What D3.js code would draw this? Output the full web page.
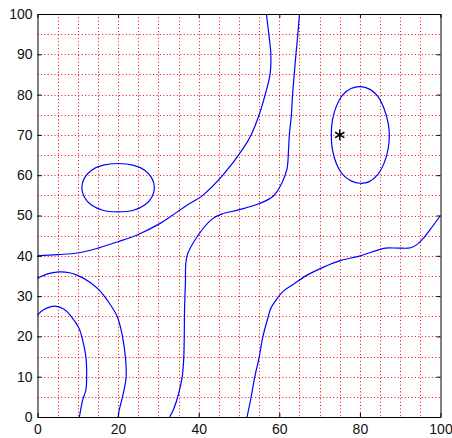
<!DOCTYPE html>
<html>
<head>
<meta charset="utf-8">
<script src="https://cdn.jsdelivr.net/npm/d3@7"></script>
<style>
  html, body { margin: 0; padding: 0; background: #fff; }
  svg { display: block; }
  .tick text { font-family: "Liberation Sans", Arial, sans-serif; font-size: 14px; fill: #111; }
</style>
</head>
<body>
<svg id="chart" width="452" height="438"></svg>
<script>
// Axis ticks and grid spacing
const xTicks = [0, 20, 40, 60, 80, 100];
const yTicks = [0, 10, 20, 30, 40, 50, 60, 70, 80, 90, 100];
const gridValues = [5, 10, 15, 20, 25, 30, 35, 40, 45, 50, 55, 60, 65, 70, 75, 80, 85, 90, 95];

// Contour lines, as [x, y] pairs
const contourUpperLeft = [
  [0, 40], [5, 40.3], [10, 40.7], [15, 41.9], [20, 43.5], [25, 45.3], [30, 47.8],
  [33.4, 50], [37, 52.5], [41, 55], [46, 60], [51, 66.6], [53, 70], [55, 75],
  [56.5, 80], [57.7, 85], [57.9, 90], [57.4, 95], [56.8, 100]
];
const contourMiddle = [
  [65, 100], [64.6, 95], [64.1, 89.7], [63.7, 84.9], [63.3, 80], [63, 75], [62.5, 70],
  [62.3, 66.5], [61.9, 61.5], [60.7, 58.2], [58.6, 54.9], [54.9, 52.9], [49.9, 51.4],
  [45.8, 50.4], [43.3, 49.1], [39.8, 45], [37.1, 40], [36.7, 33], [36.5, 27.2],
  [36.3, 14.8], [35.9, 9.9], [35, 5.7], [33.8, 2], [32.8, 0]
];
const contourLowerRight = [
  [52, 0], [53, 4.9], [53.9, 9.9], [55, 14.8], [55.9, 19.8], [57.2, 24.7], [58, 27.2],
  [59.7, 29.7], [61.1, 31.3], [63.6, 33], [66.9, 35.2], [71, 37.2], [75.1, 38.8],
  [80.1, 40], [86.3, 41.9], [89.6, 41.9], [92.6, 42], [94.3, 42.9], [95.8, 44.4],
  [97.5, 46.6], [100, 50]
];
const contourOuterArc = [
  [0, 34.4], [2.5, 35.5], [5.2, 36], [8, 35.8], [9.8, 35.2], [13.1, 33.4], [15.5, 31.3],
  [17.3, 29], [19.8, 24.9], [21.1, 19.9], [21.8, 15], [22, 10], [21.3, 5.9], [20.3, 1.8], [20, 0]
];
const contourInnerArc = [
  [0, 25.3], [1.5, 26.6], [4.3, 27.5], [6.5, 26.8], [8.1, 25.3], [10.3, 22], [11.2, 19.1],
  [12, 15], [12.2, 10], [12, 6.7], [11.2, 4.2], [10.4, 0]
];
const loopLeft = [
  [11, 57], [11.7, 59.4], [13.5, 61.3], [16.3, 62.5], [20, 62.9], [23.7, 62.5], [26.5, 61.3],
  [28.3, 59.4], [29, 57], [28.4, 54.6], [26.6, 52.6], [23.8, 51.3], [20, 50.9],
  [16.2, 51.3], [13.4, 52.6], [11.6, 54.6]
];
const loopRight = [
  [80.1, 82], [82.5, 81.3], [84.5, 79.5], [86, 76.5], [87, 73], [87.3, 70], [87, 66.5],
  [86, 63], [84.3, 60], [82.3, 58.4], [80.1, 58], [77.8, 58.6], [75.7, 60.2], [74.2, 62.8],
  [73.2, 66.3], [72.9, 70], [73.2, 73.8], [74.2, 77.2], [75.8, 80], [77.8, 81.5]
];
const marker = [[75, 70]];

const svg = d3.select("#chart");
const plotLeft = 37.5, plotTop = 14, plotWidth = 403, plotHeight = 403;

const x = d3.scaleLinear().domain([0, 100]).range([plotLeft, plotLeft + plotWidth]);
const y = d3.scaleLinear().domain([0, 100]).range([plotTop + plotHeight, plotTop]);

// Dotted red grid
const grid = svg.append("g").attr("stroke", "#ff0000").attr("stroke-width", 1)
  .attr("stroke-dasharray", "1,2.4").attr("fill", "none");
grid.selectAll("line.gx").data(gridValues).join("line")
  .attr("class", "gx")
  .attr("x1", d => Math.round(x(d)) + 0.5).attr("x2", d => Math.round(x(d)) + 0.5)
  .attr("y1", plotTop).attr("y2", plotTop + plotHeight);
grid.selectAll("line.gy").data(gridValues).join("line")
  .attr("class", "gy")
  .attr("y1", d => Math.round(y(d)) + 0.5).attr("y2", d => Math.round(y(d)) + 0.5)
  .attr("x1", plotLeft).attr("x2", plotLeft + plotWidth);

// Contour lines
const lineOpen = d3.line().x(d => x(d[0])).y(d => y(d[1])).curve(d3.curveCatmullRom.alpha(0.5));
const lineClosed = d3.line().x(d => x(d[0])).y(d => y(d[1])).curve(d3.curveCatmullRomClosed.alpha(0.5));

const contours = svg.append("g").attr("fill", "none").attr("stroke", "#0000ff").attr("stroke-width", 1.2);
[contourUpperLeft, contourMiddle, contourLowerRight, contourOuterArc, contourInnerArc].forEach(pts => {
  contours.append("path").attr("d", lineOpen(pts));
});
[loopLeft, loopRight].forEach(pts => {
  contours.append("path").attr("d", lineClosed(pts));
});

// Axes with inward ticks on all four sides
const axisStyle = g => {
  g.select(".domain").attr("stroke", "#000");
  g.selectAll(".tick line").attr("stroke", "#000");
};
svg.append("g").attr("transform", `translate(0,${plotTop + plotHeight})`)
  .call(d3.axisBottom(x).tickValues(xTicks).tickSizeInner(-4).tickSizeOuter(0).tickPadding(7))
  .call(axisStyle);
svg.append("g").attr("transform", `translate(${plotLeft},0)`)
  .call(d3.axisLeft(y).tickValues(yTicks).tickSizeInner(-4).tickSizeOuter(0).tickPadding(5))
  .call(axisStyle);
svg.append("g").attr("transform", `translate(0,${plotTop})`)
  .call(d3.axisTop(x).tickValues(xTicks).tickSizeInner(-4).tickSizeOuter(0).tickFormat(""))
  .call(axisStyle);
svg.append("g").attr("transform", `translate(${plotLeft + plotWidth},0)`)
  .call(d3.axisRight(y).tickValues(yTicks).tickSizeInner(-4).tickSizeOuter(0).tickFormat(""))
  .call(axisStyle);

// Star marker
svg.append("g").selectAll("path").data(marker).join("path")
  .attr("transform", d => `translate(${x(d[0])},${y(d[1])})`)
  .attr("d", d3.symbol(d3.symbolAsterisk, 80))
  .attr("fill", "none").attr("stroke", "#000").attr("stroke-width", 1.5);
</script>
</body>
</html>
